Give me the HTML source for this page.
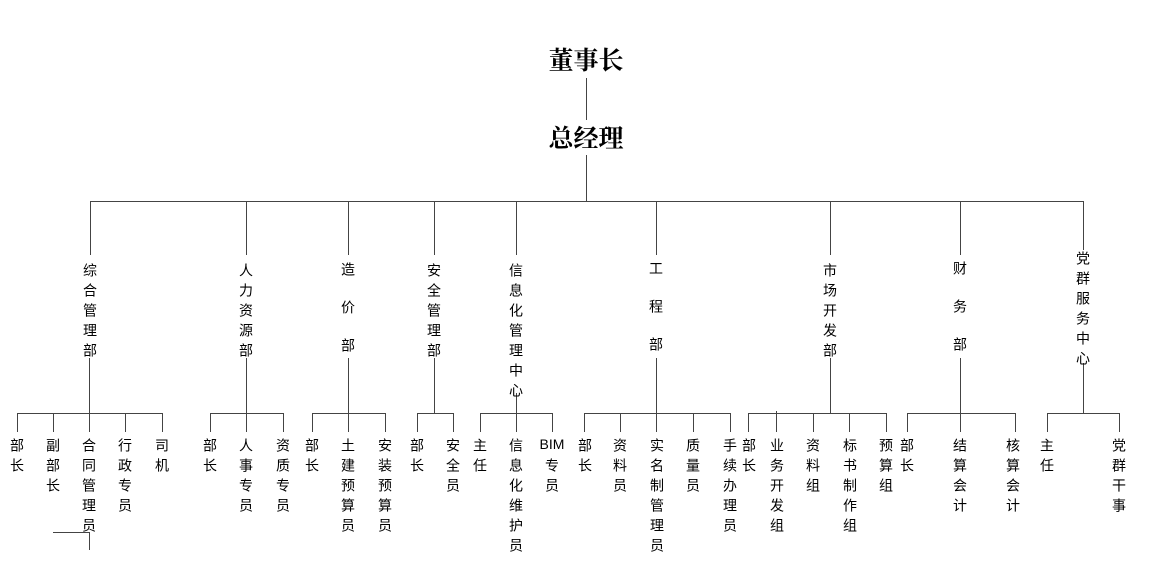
<!DOCTYPE html>
<html><head><meta charset="utf-8"><style>
html,body{margin:0;padding:0;background:#fff;}
#c{position:relative;width:1155px;height:575px;overflow:hidden;background:#fff;}
svg{position:absolute;left:0;top:0;}
.v{position:absolute;writing-mode:vertical-rl;font-family:"Liberation Sans","Noto Sans CJK SC",sans-serif;font-size:14px;line-height:14px;width:14px;letter-spacing:6px;color:#000;white-space:nowrap;}
.w{letter-spacing:24px;}
.t{position:absolute;font-family:"Liberation Serif","Noto Serif CJK SC",serif;font-weight:bold;font-size:25px;line-height:26px;color:#000;width:120px;text-align:center;}
</style></head><body><div id="c">
<svg width="1155" height="575" shape-rendering="crispEdges" stroke="#444" stroke-width="1" fill="none">
<path d="M586.5 78V120M586.5 155V201M90 201.5H1084"/>
<path d="M90.5 201V255M246.5 201V255M348.5 201V255M434.5 201V255M516.5 201V255M656.5 201V255M830.5 201V255M960.5 201V255M1083.5 201V250"/>
<path d="M89.5 358V432M246.5 358V432M348.5 358V432M434.5 358V413M516.5 393V432M656.5 358V432M830.5 358V413M960.5 358V432M1083.5 363V413"/>
<path d="M17 413.5H163M210 413.5H284M312 413.5H386M417 413.5H454M480 413.5H553M584 413.5H731M748 413.5H887M907 413.5H1016M1047 413.5H1120"/>
<path d="M17.5 413V432M53.5 413V432M125.5 413V432M162.5 413V432M210.5 413V432M283.5 413V432M312.5 413V432M385.5 413V432M417.5 413V432M453.5 413V432M480.5 413V432M552.5 413V432M584.5 413V432M620.5 413V432M693.5 413V432M730.5 413V432M748.5 413V432M776.5 411V432M813.5 413V432M849.5 413V432M886.5 413V432M907.5 413V432M1015.5 413V432M1047.5 413V432M1119.5 413V432"/>
<path d="M53 532.5H90M89.5 532V550"/>
</svg>
<div class="t" style="left:526px;top:49px">董事长</div>
<div class="t" style="left:526px;top:127px">总经理</div>

<div class="v" style="left:83px;top:263px">综合管理部</div>
<div class="v" style="left:239px;top:263px">人力资源部</div>
<div class="v w" style="left:341px;top:262px">造价部</div>
<div class="v" style="left:427px;top:263px">安全管理部</div>
<div class="v" style="left:509px;top:263px">信息化管理中心</div>
<div class="v w" style="left:649px;top:261px">工程部</div>
<div class="v" style="left:823px;top:263px">市场开发部</div>
<div class="v w" style="left:953px;top:261px">财务部</div>
<div class="v" style="left:1076px;top:251px">党群服务中心</div>

<div class="v" style="left:10px;top:438px">部长</div>
<div class="v" style="left:46px;top:438px">副部长</div>
<div class="v" style="left:82px;top:438px">合同管理员</div>
<div class="v" style="left:118px;top:438px">行政专员</div>
<div class="v" style="left:155px;top:438px">司机</div>
<div class="v" style="left:203px;top:438px">部长</div>
<div class="v" style="left:239px;top:438px">人事专员</div>
<div class="v" style="left:276px;top:438px">资质专员</div>
<div class="v" style="left:305px;top:438px">部长</div>
<div class="v" style="left:341px;top:438px">土建预算员</div>
<div class="v" style="left:378px;top:438px">安装预算员</div>
<div class="v" style="left:410px;top:438px">部长</div>
<div class="v" style="left:446px;top:438px">安全员</div>
<div class="v" style="left:473px;top:438px">主任</div>
<div class="v" style="left:509px;top:438px">信息化维护员</div>
<div style="position:absolute;left:537px;top:436px;width:30px;text-align:center;font-family:'Liberation Sans',sans-serif;font-size:14px;line-height:16px">BIM</div>
<div class="v" style="left:545px;top:458px">专员</div>
<div class="v" style="left:578px;top:438px">部长</div>
<div class="v" style="left:613px;top:438px">资料员</div>
<div class="v" style="left:650px;top:438px">实名制管理员</div>
<div class="v" style="left:686px;top:438px">质量员</div>
<div class="v" style="left:723px;top:438px">手续办理员</div>
<div class="v" style="left:742px;top:438px">部长</div>
<div class="v" style="left:770px;top:438px">业务开发组</div>
<div class="v" style="left:806px;top:438px">资料组</div>
<div class="v" style="left:843px;top:438px">标书制作组</div>
<div class="v" style="left:879px;top:438px">预算组</div>
<div class="v" style="left:900px;top:438px">部长</div>
<div class="v" style="left:953px;top:438px">结算会计</div>
<div class="v" style="left:1006px;top:438px">核算会计</div>
<div class="v" style="left:1040px;top:438px">主任</div>
<div class="v" style="left:1112px;top:438px">党群干事</div>
</div></body></html>
